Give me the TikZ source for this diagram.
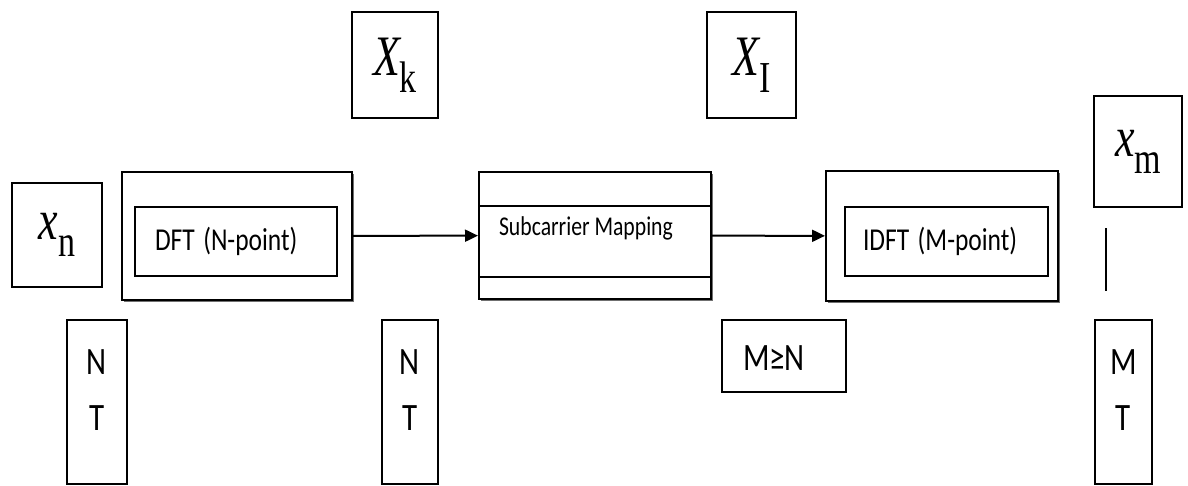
\documentclass[tikz,border=0pt]{standalone}
\usepackage{fontspec}
\newfontfamily\calibri{Carlito}
\newfontfamily\symserif{Liberation Serif}
\usepackage{tikz}
\usetikzlibrary{arrows.meta,shadows,calc}

% text is set a little taller than wide
\newcommand{\tall}[1]{\scalebox{1}[1.25]{#1}}
% italic letter with an upright index below
\newcommand{\bigsym}[2]{\scalebox{1}[1.3]{\symserif{\fontsize{44}{44}\selectfont\itshape #1}\raisebox{-13pt}{\fontsize{34}{34}\selectfont #2}}}

\begin{document}
\begin{tikzpicture}[
	x=1pt, y=-1pt, % one unit per pixel, y grows downwards
	>={Triangle[length=13pt,width=12pt]}, % filled arrowheads
	line width=2pt,
	box/.style={draw, rectangle, inner sep=0pt, fill=white},
	block/.style={box, drop shadow={shadow xshift=2pt, shadow yshift=-2pt, shadow scale=1, fill=black!70, opacity=.8}},
	lbl/.style={font=\calibri\fontsize{25.5}{30}\selectfont},
	side/.style={align=center, font=\calibri\fontsize{31}{56}\selectfont}
]
\useasboundingbox (0,0) rectangle (1188,485);

% symbol boxes
\node[box, minimum width=90, minimum height=104] (xn) at (57,235) {\bigsym{x}{n}};
\node[box, minimum width=86, minimum height=106] (xk) at (395,65) {\bigsym{X}{k}};
\node[box, minimum width=89, minimum height=106] (xi) at (751.5,65) {\bigsym{X}{I}};
\node[box, minimum width=88, minimum height=111] (xm) at (1138,151.5) {\bigsym{x}{m}};

% processing blocks
\node[block, minimum width=230, minimum height=128] (dft) at (237,236) {};
\node[box, lbl, text width=162, inner xsep=20pt, minimum height=69, align=left] (dftin) at (236,241.5) {\tall{DFT (N-point)}};
\node[block, minimum width=232, minimum height=127] (map) at (595,235.5) {};
\draw ($(map.north west)+(0,35)$) -- ($(map.north east)+(0,35)$);
\draw ($(map.south west)+(0,-23)$) -- ($(map.south east)+(0,-23)$);
\node[anchor=west, inner sep=0pt, font=\calibri\fontsize{21.7}{26}\selectfont] (maptxt) at (498,228) {\tall{Subcarrier Mapping}};
\node[block, minimum width=232, minimum height=130] (idft) at (942,236) {};
\node[box, lbl, text width=167, inner xsep=18pt, minimum height=69, align=left] (idftin) at (946.5,241.5) {\tall{IDFT (M-point)}};

\path[->]
(dft) edge (map)
(map) edge (idft)
;

\draw (1106,228) -- (1106,291);

% sample counts and durations
\node[box, minimum width=60, minimum height=164] (nt1) at (97,402) {};
\node[side] at ([yshift=12pt]nt1.center) {\tall{N}\\\tall{T}};
\node[box, minimum width=56, minimum height=164] (nt2) at (410,402) {};
\node[side] at ([yshift=12pt]nt2.center) {\tall{N}\\\tall{T}};
\node[box, minimum width=124, minimum height=72] (mn) at (784,356) {};
\node[anchor=west, inner sep=0pt, font=\calibri\fontsize{31}{36}\selectfont] (mntxt) at (742,358) {\tall{M≥N}};
\node[box, minimum width=57, minimum height=164] (mt) at (1123.5,402) {};
\node[side] at ([yshift=12pt]mt.center) {\tall{M}\\\tall{T}};
\end{tikzpicture}
\end{document}
